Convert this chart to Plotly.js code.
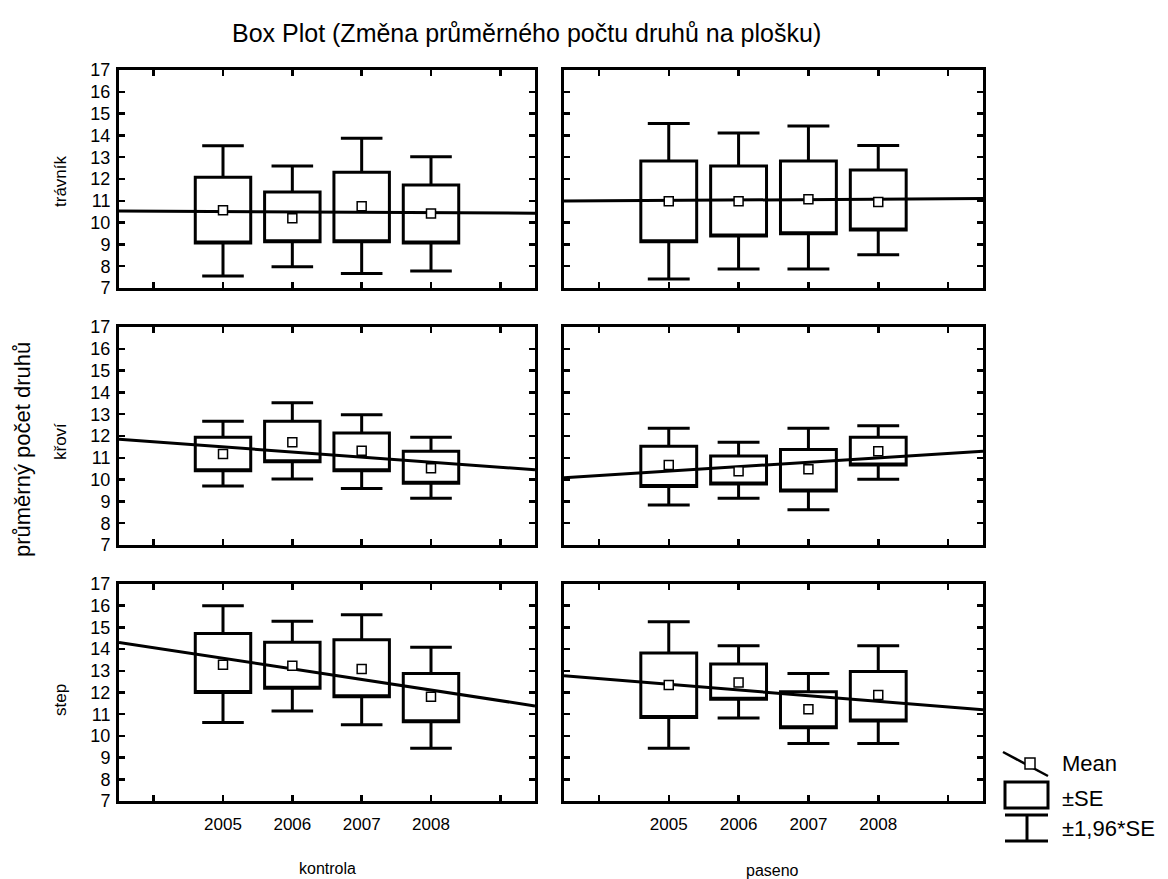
<!DOCTYPE html>
<html>
<head>
<meta charset="utf-8">
<script src="https://cdn.plot.ly/plotly-3.0.1.min.js"></script>
<style>html,body{margin:0;padding:0;background:#fff;}#chart{width:1168px;height:879px;}</style>
</head>
<body>
<div id="chart"></div>
<script>
// ---- data ----
const years = [2005, 2006, 2007, 2008];
const tickYears = [2004, 2005, 2006, 2007, 2008, 2009];
const tickLabels = ['', '2005', '2006', '2007', '2008', ''];
const fitX = [2003.5, 2009.5];
const rowNames = ['trávník', 'křoví', 'step'];
const colNames = ['kontrola', 'paseno'];

const travnikKontrolaMean = [10.57, 10.20, 10.75, 10.42];
const travnikKontrolaSeLow = [9.06, 9.12, 9.12, 9.06];
const travnikKontrolaSeHigh = [12.08, 11.40, 12.31, 11.72];
const travnikKontrolaCiLow = [7.55, 7.98, 7.67, 7.78];
const travnikKontrolaCiHigh = [13.53, 12.60, 13.87, 13.02];
const travnikKontrolaFit = [10.53, 10.43];

const travnikPasenoMean = [10.98, 10.98, 11.07, 10.94];
const travnikPasenoSeLow = [9.12, 9.39, 9.49, 9.66];
const travnikPasenoSeHigh = [12.83, 12.60, 12.83, 12.41];
const travnikPasenoCiLow = [7.41, 7.87, 7.87, 8.53];
const travnikPasenoCiHigh = [14.55, 14.11, 14.43, 13.54];
const travnikPasenoFit = [10.99, 11.10];

const kroviKontrolaMean = [11.18, 11.71, 11.32, 10.52];
const kroviKontrolaSeLow = [10.41, 10.82, 10.41, 9.83];
const kroviKontrolaSeHigh = [11.94, 12.68, 12.14, 11.30];
const kroviKontrolaCiLow = [9.71, 10.03, 9.59, 9.15];
const kroviKontrolaCiHigh = [12.68, 13.53, 12.98, 11.94];
const kroviKontrolaFit = [11.85, 10.45];

const kroviPasenoMean = [10.67, 10.38, 10.47, 11.30];
const kroviPasenoSeLow = [9.68, 9.80, 9.48, 10.67];
const kroviPasenoSeHigh = [11.53, 11.08, 11.38, 11.94];
const kroviPasenoCiLow = [8.83, 9.15, 8.62, 10.02];
const kroviPasenoCiHigh = [12.36, 11.71, 12.36, 12.47];
const kroviPasenoFit = [10.09, 11.30];

const stepKontrolaMean = [13.28, 13.23, 13.08, 11.80];
const stepKontrolaSeLow = [12.00, 12.20, 11.80, 10.65];
const stepKontrolaSeHigh = [14.72, 14.31, 14.43, 12.88];
const stepKontrolaCiLow = [10.62, 11.15, 10.51, 9.43];
const stepKontrolaCiHigh = [16.00, 15.28, 15.58, 14.08];
const stepKontrolaFit = [14.31, 11.38];

const stepPasenoMean = [12.34, 12.46, 11.23, 11.89];
const stepPasenoSeLow = [10.85, 11.69, 10.38, 10.69];
const stepPasenoSeHigh = [13.82, 13.31, 12.03, 12.97];
const stepPasenoCiLow = [9.43, 10.83, 9.65, 9.65];
const stepPasenoCiHigh = [15.26, 14.15, 12.88, 14.15];
const stepPasenoFit = [12.77, 11.20];

// ---- layout helpers ----
const W = 1168, H = 879;
const px = x => x / W;
const py = y => 1 - y / H;
const FONT = 'Liberation Sans, Arial, sans-serif';

const panels = [
  {mean: travnikKontrolaMean, lo: travnikKontrolaSeLow, hi: travnikKontrolaSeHigh, clo: travnikKontrolaCiLow, chi: travnikKontrolaCiHigh, fit: travnikKontrolaFit},
  {mean: travnikPasenoMean, lo: travnikPasenoSeLow, hi: travnikPasenoSeHigh, clo: travnikPasenoCiLow, chi: travnikPasenoCiHigh, fit: travnikPasenoFit},
  {mean: kroviKontrolaMean, lo: kroviKontrolaSeLow, hi: kroviKontrolaSeHigh, clo: kroviKontrolaCiLow, chi: kroviKontrolaCiHigh, fit: kroviKontrolaFit},
  {mean: kroviPasenoMean, lo: kroviPasenoSeLow, hi: kroviPasenoSeHigh, clo: kroviPasenoCiLow, chi: kroviPasenoCiHigh, fit: kroviPasenoFit},
  {mean: stepKontrolaMean, lo: stepKontrolaSeLow, hi: stepKontrolaSeHigh, clo: stepKontrolaCiLow, chi: stepKontrolaCiHigh, fit: stepKontrolaFit},
  {mean: stepPasenoMean, lo: stepPasenoSeLow, hi: stepPasenoSeHigh, clo: stepPasenoCiLow, chi: stepPasenoCiHigh, fit: stepPasenoFit}
];

const colPix = [[119, 535], [564, 983]];
const rowPix = [[70, 288], [327, 545], [584, 801]];

const traces = [];
const layout = {
  width: W, height: H,
  margin: {l: 0, r: 0, t: 0, b: 0},
  paper_bgcolor: '#fff', plot_bgcolor: '#fff',
  showlegend: false,
  font: {family: FONT, color: '#000'},
  annotations: [], shapes: []
};

panels.forEach((p, i) => {
  const r = Math.floor(i / 2), c = i % 2;
  const n = i + 1;
  const xa = 'x' + (n === 1 ? '' : n), ya = 'y' + (n === 1 ? '' : n);
  const xk = 'xaxis' + (n === 1 ? '' : n), yk = 'yaxis' + (n === 1 ? '' : n);
  layout[xk] = {
    domain: [px(colPix[c][0]), px(colPix[c][1])],
    anchor: ya, range: [2003.5, 2009.5],
    tickmode: 'array', tickvals: tickYears, ticktext: tickLabels,
    showticklabels: r === 2,
    ticks: 'inside', ticklen: 6, tickwidth: 2.5, tickcolor: '#000',
    showline: true, linewidth: 3, linecolor: '#000', mirror: 'ticks',
    showgrid: false, zeroline: false, fixedrange: true,
    tickfont: {size: 17, family: FONT, color: '#000'},
    ticklabelstandoff: 6
  };
  layout[yk] = {
    domain: [py(rowPix[r][1]), py(rowPix[r][0])],
    anchor: xa, range: [7, 17], dtick: 1, tick0: 7,
    showticklabels: c === 0,
    ticks: 'inside', ticklen: 6, tickwidth: 2.5, tickcolor: '#000',
    showline: true, linewidth: 3, linecolor: '#000', mirror: 'ticks',
    showgrid: false, zeroline: false, fixedrange: true,
    tickfont: {size: 18, family: FONT, color: '#000'},
    ticklabelstandoff: 2
  };
  traces.push({
    type: 'box', x: years, q1: p.lo, q3: p.hi, median: p.lo,
    lowerfence: p.clo, upperfence: p.chi,
    width: 0.8, whiskerwidth: 0.75, boxpoints: false,
    line: {color: '#000', width: 3}, fillcolor: 'rgba(255,255,255,0)',
    hoverinfo: 'skip', xaxis: xa, yaxis: ya
  });
  traces.push({
    type: 'scatter', mode: 'lines', x: fitX, y: p.fit,
    line: {color: '#000', width: 3}, hoverinfo: 'skip', xaxis: xa, yaxis: ya
  });
  traces.push({
    type: 'scatter', mode: 'markers', x: years, y: p.mean,
    marker: {symbol: 'square', size: 9, color: '#fff', line: {color: '#000', width: 1.5}},
    hoverinfo: 'skip', xaxis: xa, yaxis: ya
  });
});

const ann = (text, x, y, size, opts) => Object.assign({
  text: text, xref: 'paper', yref: 'paper', x: px(x), y: py(y),
  showarrow: false, font: {size: size, family: FONT, color: '#000'},
  xanchor: 'center', yanchor: 'middle'
}, opts || {});

layout.annotations.push(ann('Box Plot (Změna průměrného počtu druhů na plošku)', 526, 33, 25));
layout.annotations.push(ann('průměrný počet druhů', 23, 450, 22, {textangle: -90}));
layout.annotations.push(ann(rowNames[0], 60, 181, 17, {textangle: -90}));
layout.annotations.push(ann(rowNames[1], 60, 442, 17, {textangle: -90}));
layout.annotations.push(ann(rowNames[2], 60, 700, 17, {textangle: -90}));
layout.annotations.push(ann(colNames[0], 327, 868, 16));
layout.annotations.push(ann(colNames[1], 772, 870, 16));
layout.annotations.push(ann('Mean', 1060, 763, 22, {xanchor: 'left'}));
layout.annotations.push(ann('±SE', 1060, 798, 22, {xanchor: 'left'}));
layout.annotations.push(ann('±1,96*SE', 1060, 828, 22, {xanchor: 'left'}));

const shp = (type, x0, y0, x1, y1, w, fill) => ({
  type: type, xref: 'paper', yref: 'paper',
  x0: px(x0), y0: py(y0), x1: px(x1), y1: py(y1),
  line: {color: '#000', width: w}, fillcolor: fill || 'rgba(0,0,0,0)'
});
layout.shapes.push(shp('line', 1003, 752, 1048, 776, 2.5));
layout.shapes.push(shp('rect', 1025, 758, 1035, 769, 1.5, '#fff'));
layout.shapes.push(shp('rect', 1005, 782, 1048, 808, 3));
layout.shapes.push(shp('line', 1005, 815, 1048, 815, 3));
layout.shapes.push(shp('line', 1005, 841, 1048, 841, 3));
layout.shapes.push(shp('line', 1027, 815, 1027, 841, 3));

Plotly.newPlot('chart', traces, layout, {staticPlot: true, displayModeBar: false});
</script>
</body>
</html>
